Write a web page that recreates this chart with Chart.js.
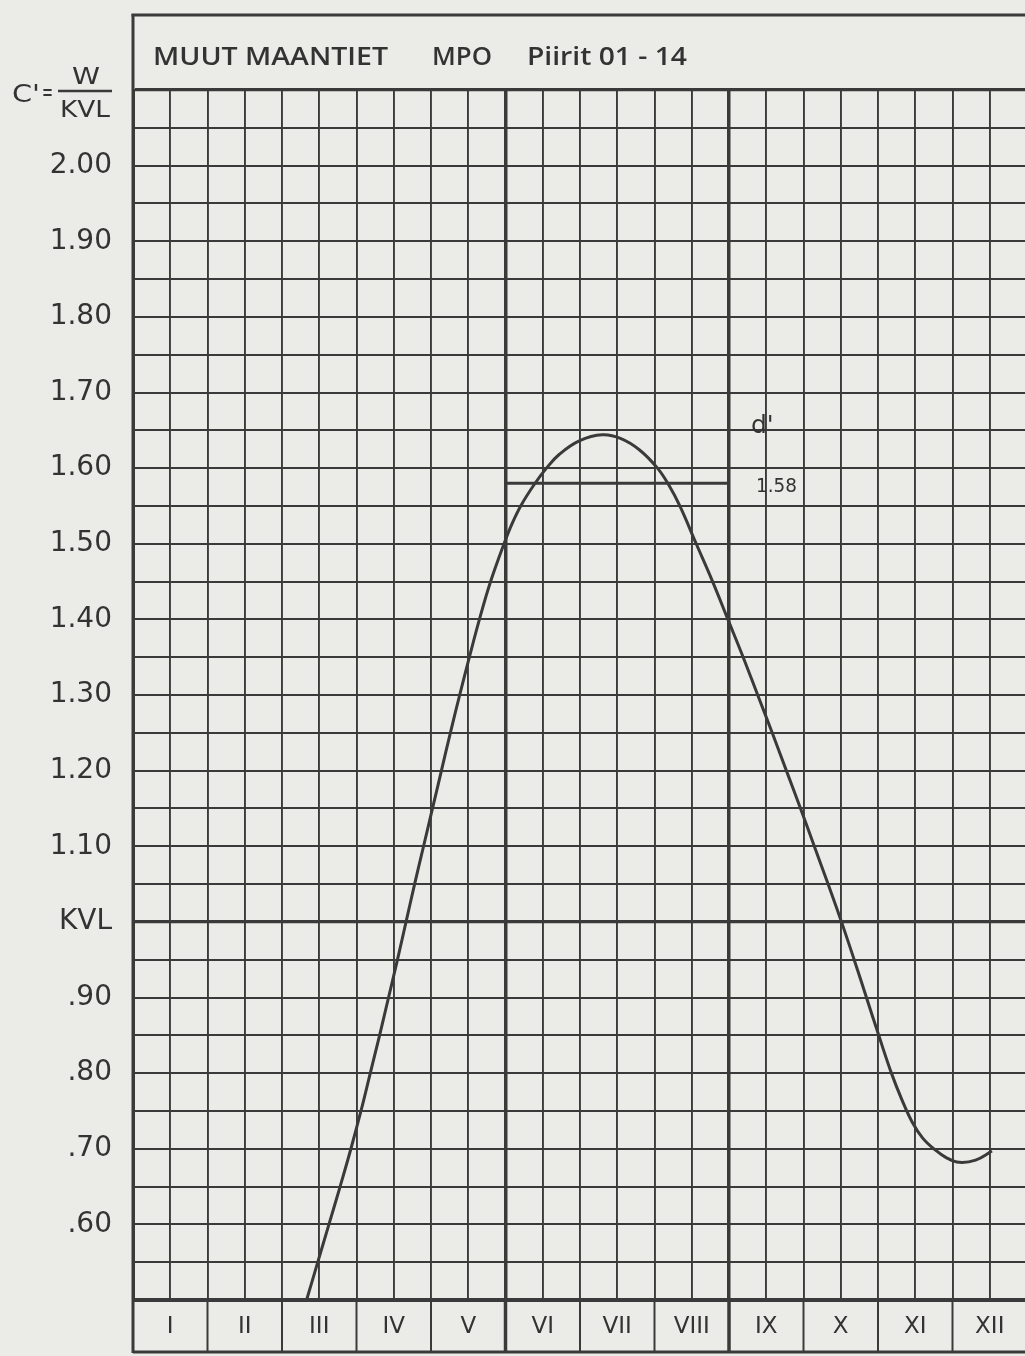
<!DOCTYPE html>
<html><head><meta charset="utf-8">
<script src="https://cdn.jsdelivr.net/npm/chart.js@4.4.1/dist/chart.umd.min.js"></script>
<style>
html,body{margin:0;padding:0;background:#ebebe7;overflow:hidden;width:1025px;height:1356px}
#wrap{position:absolute;left:0;top:0;width:1040px;height:1356px}
</style></head><body>
<div id="wrap"><canvas id="c" width="1040" height="1356"></canvas></div>
<script>
// ---- data ----
const monthLabels = ['I','II','III','IV','V','VI','VII','VIII','IX','X','XI','XII'];
const curveMonths = [2.33,2.48,2.63,2.78,2.925,3.06,3.185,3.31,3.43,3.55,3.665,3.78,3.90,4.02,4.14,4.26,4.385,4.515,4.65,4.80,4.98,5.09,5.21,5.39,5.55,5.72,5.99,6.30,6.55,6.80,7.04,7.19,7.34,7.56,7.78,7.985,8.19,8.385,8.58,8.77,8.96,9.145,9.33,9.51,9.68,9.845,10.01,10.18,10.32,10.46,10.60,10.76,10.92,11.09,11.31,11.53];
const curveValues = [0.50,0.55,0.60,0.65,0.70,0.75,0.80,0.85,0.90,0.95,1.00,1.05,1.10,1.15,1.20,1.25,1.30,1.35,1.40,1.45,1.50,1.527,1.551,1.579,1.600,1.618,1.636,1.644,1.639,1.624,1.60,1.578,1.55,1.50,1.45,1.40,1.35,1.30,1.25,1.20,1.15,1.10,1.05,1.00,0.95,0.90,0.85,0.80,0.765,0.735,0.714,0.699,0.688,0.682,0.685,0.697];
const refLevel = 1.58;
const refStartMonth = 5;
const refEndMonth = 8;
const refLabel = '1.58';
const refName = "d'";
const yTickValues = [2.0,1.9,1.8,1.7,1.6,1.5,1.4,1.3,1.2,1.1,1.0,0.9,0.8,0.7,0.6];
const yTickLabels = ['2.00','1.90','1.80','1.70','1.60','1.50','1.40','1.30','1.20','1.10','KVL','.90','.80','.70','.60'];
const titleParts = ['MUUT MAANTIET','MPO','Piirit 01 - 14'];

// ---- style ----
const ink = '#3a3a3a';
const textInk = '#333333';
const X_MIN = 0, X_MAX = 12, Y_MIN = 0.5, Y_MAX = 2.1;

const near = (a,b)=>Math.abs(a-b)<1e-6;

function fitText(c, text, x, y, width){
  const w = c.measureText(text).width;
  c.save();
  c.translate(x, y);
  c.scale(width / w, 1);
  c.fillText(text, 0, 0);
  c.restore();
}

const decor = {
  id:'decor',
  afterDraw(chart){
    const c = chart.ctx, xs = chart.scales.x, ys = chart.scales.y, ca = chart.chartArea;
    const W = chart.width;
    c.save();
    c.strokeStyle = ink; c.lineCap = 'butt';
    // title box
    c.lineWidth = 3;
    c.beginPath(); c.moveTo(ca.left-1.5, 15); c.lineTo(W, 15); c.stroke();
    c.beginPath(); c.moveTo(ca.left, 14); c.lineTo(ca.left, 1353); c.stroke();
    // month band
    c.beginPath(); c.moveTo(ca.left, 1352); c.lineTo(W, 1352); c.stroke();
    for (let m = 1; m <= 12; m++) {
      const px = xs.getPixelForValue(m);
      c.lineWidth = (m===5||m===8) ? 3.5 : 2;
      c.beginPath(); c.moveTo(px, ca.bottom); c.lineTo(px, 1352); c.stroke();
    }
    // title text
    c.fillStyle = textInk;
    c.textBaseline = 'alphabetic';
    c.textAlign = 'left';
    c.font = '600 25px "Open Sans"';
    fitText(c, titleParts[0], 153, 65, 235);
    fitText(c, titleParts[1], 432, 65, 60);
    fitText(c, titleParts[2], 527, 65, 160);
    // y header C' = W / KVL
    c.font = '24px "DejaVu Sans"';
    fitText(c, "C'", 12, 102, 28);
    fitText(c, '=', 42, 100, 11);
    c.font = '23px "DejaVu Sans"';
    fitText(c, 'W', 72, 84, 28);
    fitText(c, 'KVL', 60, 117, 50);
    c.lineWidth = 2.5;
    c.beginPath(); c.moveTo(58, 91); c.lineTo(112, 91); c.stroke();
    // reference annotation
    const rx = xs.getPixelForValue(refEndMonth), ry = ys.getPixelForValue(refLevel);
    c.font = '19px "DejaVu Sans"';
    fitText(c, refLabel, rx + 27, ry + 9, 41);
    c.font = '25px "DejaVu Sans"';
    c.fillText(refName, rx + 22, ry - 50);
    c.restore();
  }
};

new Chart(document.getElementById('c').getContext('2d'), {
  type:'line',
  data:{datasets:[
    {data: curveMonths.map((m,i)=>({x:m,y:curveValues[i]})), borderColor:ink, borderWidth:3,
     pointRadius:0, tension:0.4, fill:false},
    {data:[{x:refStartMonth,y:refLevel},{x:refEndMonth,y:refLevel}], borderColor:ink, borderWidth:3, pointRadius:0, fill:false}
  ]},
  options:{
    responsive:false, animation:false, devicePixelRatio:1,
    layout:{padding:{top:90,left:0,right:12,bottom:4}},
    plugins:{legend:{display:false},tooltip:{enabled:false},title:{display:false}},
    scales:{
      x:{type:'linear', min:X_MIN, max:X_MAX,
        afterBuildTicks:s=>{const t=[];for(let i=0;i<=24;i++)t.push({value:i/2});s.ticks=t;},
        afterFit:s=>{s.height=52;},
        ticks:{autoSkip:false,maxRotation:0,minRotation:0,padding:13,color:textInk,
          font:{family:'"DejaVu Sans"',size:23},
          callback:v=>{const k=Math.floor(v); return (!near(v,k) && k<12) ? monthLabels[k] : '';}},
        grid:{color:ink, drawTicks:false,
          lineWidth:ctx=>{const v=ctx.tick.value; return (near(v,5)||near(v,8))?3.5:(near(v,0)?3:1.9);}},
        border:{display:true,color:ink,width:3}
      },
      y:{type:'linear', min:Y_MIN, max:Y_MAX,
        afterBuildTicks:s=>{const t=[];for(let i=0;i<=32;i++)t.push({value:Math.round((Y_MIN+i*0.05)*100)/100});s.ticks=t;},
        afterFit:s=>{s.width=133;},
        ticks:{autoSkip:false,padding:21,color:textInk,
          font:{family:'"DejaVu Sans"',size:28},
          callback:v=>{const i=yTickValues.findIndex(t=>near(t,v)); return i>=0?yTickLabels[i]:'';}},
        grid:{color:ink, drawTicks:false,
          lineWidth:ctx=>{const v=ctx.tick.value; return (near(v,1.0)||near(v,Y_MAX)||near(v,Y_MIN))?3.2:1.9;}},
        border:{display:true,color:ink,width:3}
      }
    }
  },
  plugins:[decor]
});
</script>
</body></html>
